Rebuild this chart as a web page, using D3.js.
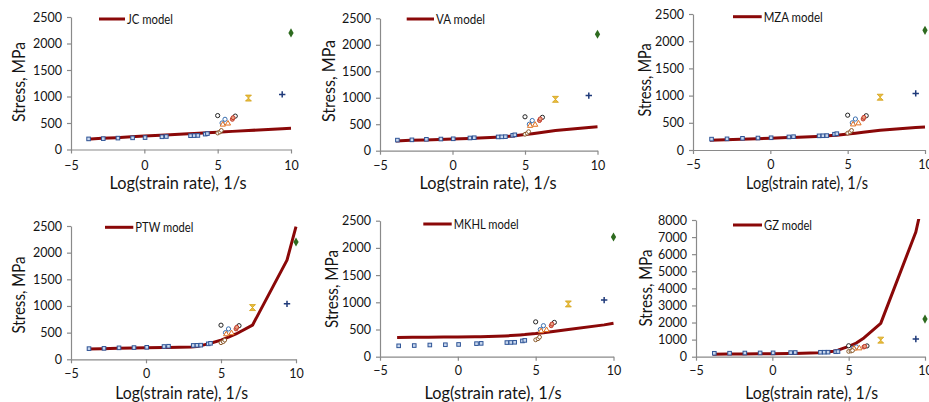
<!DOCTYPE html>
<html><head><meta charset="utf-8">
<script src="https://cdn.jsdelivr.net/npm/d3@7"></script>
<style>body{margin:0;background:#fff} svg{display:block;font-family:Lato,"Open Sans",sans-serif}</style>
</head><body><svg id="chart" width="929" height="402"></svg>
<script>
// Log10 of strain rate at which the constitutive models are evaluated
const modelRate = [-3.9,-2.9,-1.9,-0.9,0,1.1,1.45,3.0,3.4,4.0,4.3,5.0,5.5,6.0,7.1,9.4,10.0];
// Model flow stress (MPa)
const jcStress   = [195,210,224,239,253,269,274,297,303,312,316,327,334,342,358,392,400];
const vaStress   = [185,195,203,212,222,232,236,255,262,275,283,305,322,340,380,440,452];
const mzaStress  = [178,188,198,208,218,228,232,250,256,266,272,292,308,326,362,415,425];
const ptwStress  = [195,200,205,210,215,220,222,232,240,280,300,360,415,475,640,1860,2490];
const mkhlStress = [355,356,358,360,362,366,368,382,388,400,406,425,442,460,500,585,615];
const gzStress   = [150,155,160,168,175,185,190,230,255,320,380,600,800,1100,1950,7300,9700];
const modelNames = ["JC model","VA model","MZA model","PTW model","MKHL model","GZ model"];

// Experimental data (log strain rate, stress MPa)
const quasiRate = [-3.8,-2.8,-1.8,-0.8,0.05,1.2,1.5,3.15,3.4,3.65,4.15,4.3];
const quasiStress = [200,205,215,220,225,240,245,260,262,265,290,300];
const hopkA_Rate = [5.0,6.2];          const hopkA_Stress = [640,630];
const hopkB_Rate = [5.5,5.3];          const hopkB_Stress = [570,500];
const hopkC_Rate = [5.35,5.7];         const hopkC_Stress = [470,490];
const hopkD_Rate = [6.0,6.05];         const hopkD_Stress = [570,600];
const hopkE_Rate = [5.0,5.15,5.25];    const hopkE_Stress = [310,330,360];
const taylorRate = [7.1];              const taylorStress = [970];
const plateRate = [9.4];               const plateStress = [1040];
const shockRate = [10.0];              const shockStress = [2200];

// Axis ticks
const xTicks = [-5,0,5,10];
const yTicksStd = [0,500,1000,1500,2000,2500];
const yTicksGZ = [0,1000,2000,3000,4000,5000,6000,7000,8000];

const modelSeries = [jcStress,vaStress,mzaStress,ptwStress,mkhlStress,gzStress];

// Panel frames: plot area edges, label anchors
const frames = [
  {x0:71,x1:291,y0:149.5,y1:17,yMax:2500,ticks:yTicksStd,yt:[18,82,80],xt:[178,182,137],xl:165,lg:[99,125,19,46]},
  {x0:380,x1:597.5,y0:150.7,y1:18.3,yMax:2500,ticks:yTicksStd,yt:[328,81,82],xt:[488,182,137],xl:165.7,lg:[406.7,434,19,49]},
  {x0:693,x1:925,y0:150,y1:14,yMax:2500,ticks:yTicksStd,yt:[644,80,73],xt:[807,182,122],xl:164.3,lg:[733,761.7,16.7,59]},
  {x0:71,x1:296,y0:359.3,y1:226,yMax:2500,ticks:yTicksStd,yt:[18,295,77],xt:[181.7,392,133],xl:373.3,lg:[105,133.3,227.3,58]},
  {x0:380,x1:613.5,y0:356.7,y1:220.7,yMax:2500,ticks:yTicksStd,yt:[330.7,289,78],xt:[493,392,137],xl:370.7,lg:[423.3,451.7,224,65]},
  {x0:696,x1:925,y0:356.7,y1:220,yMax:8000,ticks:yTicksGZ,yt:[645,288,77],xt:[811.7,392,133],xl:370.7,lg:[733,762,225,48]}
];

const svg = d3.select("#chart");
const lineColor = "#8a0808";
const axisColor = "#8a8a8a";
const textColor = "#141414";

// Narrow face: keep the glyph height, squeeze the run to the wanted length
function squeeze(sel, len) {
  sel.attr("textLength", len).attr("lengthAdjust", "spacingAndGlyphs");
}

const hourglass = s => `M${-s},${-s}L${s},${-s}L0,0L${s},${s}L${-s},${s}L0,0Z`;

frames.forEach((f, i) => {
  const g = svg.append("g");
  const x = d3.scaleLinear().domain([-5,10]).range([f.x0,f.x1]);
  const y = d3.scaleLinear().domain([0,f.yMax]).range([f.y0,f.y1]);

  const clipId = "clip" + i;
  g.append("clipPath").attr("id", clipId).append("rect")
    .attr("x", f.x0 - 10).attr("y", f.y1 - 1)
    .attr("width", f.x1 - f.x0 + 20).attr("height", f.y0 - f.y1 + 10);

  // axes
  const ya = g.append("g").attr("transform", `translate(${f.x0},0)`)
    .call(d3.axisLeft(y).tickValues(f.ticks).tickSizeInner(4).tickSizeOuter(0).tickPadding(5).tickFormat(d3.format("d")));
  const xa = g.append("g").attr("transform", `translate(0,${f.y0})`)
    .call(d3.axisBottom(x).tickValues(xTicks).tickSizeInner(4).tickSizeOuter(0).tickPadding(5).tickFormat(d3.format("d")));
  [ya, xa].forEach(a => {
    a.select(".domain").attr("stroke", axisColor).attr("stroke-width", 1.2);
    a.selectAll(".tick line").attr("stroke", axisColor).attr("stroke-width", 1.2);
    a.selectAll(".tick text").attr("fill", textColor).attr("font-size", 12.5)
      .attr("font-family", "Lato, sans-serif");
  });
  xa.selectAll(".tick text").attr("y", null).attr("dy", null)
    .attr("dominant-baseline", "central")
    .attr("transform", `translate(0,${f.xl - f.y0})`);

  // axis titles
  const yt = g.append("text").text("Stress, MPa")
    .attr("font-size", 18).attr("fill", textColor).attr("text-anchor", "middle")
    .attr("dominant-baseline", "central")
    .attr("transform", `translate(${f.yt[0]},${f.yt[1]}) rotate(-90)`);
  squeeze(yt, f.yt[2]);
  const xt = g.append("text").text("Log(strain rate), 1/s")
    .attr("font-size", 17.5).attr("fill", textColor).attr("text-anchor", "middle")
    .attr("dominant-baseline", "central")
    .attr("x", f.xt[0]).attr("y", f.xt[1]);
  squeeze(xt, f.xt[2]);

  // model curve
  const line = d3.line().x((d, k) => x(modelRate[k])).y(d => y(d));
  g.append("path").datum(modelSeries[i])
    .attr("clip-path", `url(#${clipId})`)
    .attr("fill", "none").attr("stroke", lineColor).attr("stroke-width", 3)
    .attr("stroke-linejoin", "round").attr("d", line);

  // experimental markers
  const pts = (rates, stresses) => rates.map((r, k) => [x(r), y(stresses[k])]);
  const m = g.append("g");
  pts(quasiRate, quasiStress).forEach(p => m.append("rect")
    .attr("x", p[0]-1.8).attr("y", p[1]-1.8).attr("width", 3.6).attr("height", 3.6)
    .attr("fill", "#c9d8ee").attr("stroke", "#2f5597").attr("stroke-width", 1));
  pts(hopkA_Rate, hopkA_Stress).forEach(p => m.append("circle")
    .attr("cx", p[0]).attr("cy", p[1]).attr("r", 2.1)
    .attr("fill", "#fff").attr("stroke", "#222").attr("stroke-width", 1));
  pts(hopkB_Rate, hopkB_Stress).forEach(p => m.append("circle")
    .attr("cx", p[0]).attr("cy", p[1]).attr("r", 2.1)
    .attr("fill", "#fff").attr("stroke", "#3a6fb0").attr("stroke-width", 1));
  pts(hopkC_Rate, hopkC_Stress).forEach(p => m.append("path")
    .attr("transform", `translate(${p[0]},${p[1]})`)
    .attr("d", d3.symbol(d3.symbolTriangle, 12)())
    .attr("fill", "#fff").attr("stroke", "#e07020").attr("stroke-width", 1));
  pts(hopkD_Rate, hopkD_Stress).forEach(p => m.append("circle")
    .attr("cx", p[0]).attr("cy", p[1]).attr("r", 2)
    .attr("fill", "#e8a080").attr("stroke", "#c0392b").attr("stroke-width", 1));
  pts(hopkE_Rate, hopkE_Stress).forEach(p => m.append("circle")
    .attr("cx", p[0]).attr("cy", p[1]).attr("r", 1.9)
    .attr("fill", "#fff").attr("stroke", "#8b5a2b").attr("stroke-width", 1));
  pts(taylorRate, taylorStress).forEach(p => m.append("path")
    .attr("transform", `translate(${p[0]},${p[1]})`)
    .attr("d", hourglass(3))
    .attr("fill", "#e8c040").attr("stroke", "#d4a017").attr("stroke-width", 0.8));
  pts(plateRate, plateStress).forEach(p => m.append("path")
    .attr("d", `M${p[0]-3.2},${p[1]}H${p[0]+3.2}M${p[0]},${p[1]-3.2}V${p[1]+3.2}`)
    .attr("stroke", "#1f3a7a").attr("stroke-width", 1.5));
  pts(shockRate, shockStress).forEach(p => m.append("path")
    .attr("transform", `translate(${p[0]},${p[1]})`)
    .attr("d", d3.symbol(d3.symbolDiamond, 24)())
    .attr("fill", "#2e6b1f"));

  // legend
  g.append("line").attr("x1", f.lg[0]).attr("x2", f.lg[1]).attr("y1", f.lg[2]).attr("y2", f.lg[2])
    .attr("stroke", lineColor).attr("stroke-width", 3);
  const lt = g.append("text").text(modelNames[i])
    .attr("x", f.lg[1] + 2).attr("y", f.lg[2]).attr("dominant-baseline", "central")
    .attr("font-size", 13.5).attr("fill", textColor);
  squeeze(lt, f.lg[3]);
});
</script></body></html>
